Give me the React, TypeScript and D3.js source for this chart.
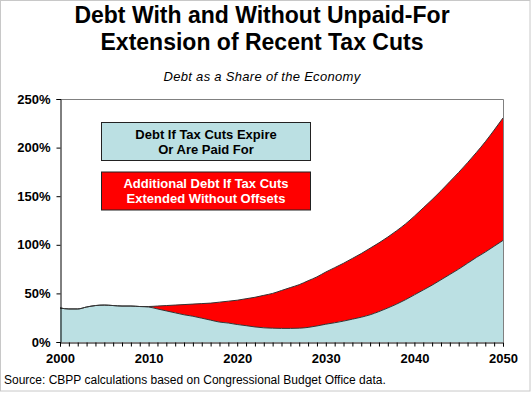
import React, { useEffect, useRef } from 'react';
import * as d3 from 'd3';

const years = d3.range(2000, 2051);

// debt if tax cuts expire (% of GDP)
const baseDebt = [
  35, 34, 34, 36, 37.5, 38, 37.5, 37, 37, 36.5,
  36, 34, 32, 30, 28, 26.5, 24.5, 22.5, 20.5, 19.5,
  18, 16.8, 15.5, 14.6, 14.2, 14, 14, 14.2, 15, 16.5,
  18.3, 19.8, 21.5, 23.5, 25.5, 28, 31.3, 35, 39, 43.5,
  48.5, 53.5, 58.5, 64, 69.5, 75, 81, 87, 92.5, 98.5,
  104.5,
];

// total debt if tax cuts extended without offsets
const totalDebt = [
  35, 34, 34, 36, 37.5, 38, 37.5, 37, 37, 36.5,
  36.5, 37, 37.5, 38, 38.5, 39, 39.5, 40, 41, 42,
  43, 44.5, 46, 48, 50, 53, 56, 59, 63, 67,
  72, 76.5, 81, 86, 91, 96.5, 102, 108, 114.5, 121.5,
  129.5, 138, 146.5, 155.5, 165, 174.5, 184.5, 195, 206, 218,
  230.5,
];

const yTicks = [0, 50, 100, 150, 200, 250];
const xLabels = [2000, 2010, 2020, 2030, 2040, 2050];

const titleLines = ['Debt With and Without Unpaid-For', 'Extension of Recent Tax Cuts'];
const subtitle = 'Debt as a Share of the Economy';
const legendBlue = ['Debt If Tax Cuts Expire', 'Or Are Paid For'];
const legendRed = ['Additional Debt If Tax Cuts', 'Extended Without Offsets'];
const source = 'Source: CBPP calculations based on Congressional Budget Office data.';

const W = 531, H = 398;
const font = 'Arial, "Liberation Sans", Helvetica, sans-serif';

const App = () => {
  const ref = useRef<SVGSVGElement | null>(null);

  useEffect(() => {
    if (!ref.current) return;
    const svg = d3.select(ref.current);
    svg.selectAll('*').remove();

    const margin = { top: 99, right: 28, bottom: 56, left: 60 };
    const x = d3.scaleLinear().domain([2000, 2050]).range([margin.left, W - margin.right]);
    const y = d3.scaleLinear().domain([0, 250]).range([H - margin.bottom, margin.top]);

    const data = years.map((yr, i) => ({ yr, base: baseDebt[i], total: totalDebt[i] }));

    svg.append('rect').attr('width', W).attr('height', H).attr('fill', '#fff');
    // outer frame
    svg.append('rect')
      .attr('x', 0.5).attr('y', 0.5).attr('width', W - 1.5).attr('height', 390.5)
      .attr('fill', 'none').attr('stroke', '#c8c8c8');

    const g = svg.append('g');

    const blueArea = d3.area<any>()
      .x(d => x(d.yr)).y0(y(0)).y1(d => y(d.base))
      .curve(d3.curveMonotoneX);
    const redArea = d3.area<any>()
      .x(d => x(d.yr)).y0(d => y(d.base)).y1(d => y(d.total))
      .curve(d3.curveMonotoneX);

    g.append('path').datum(data).attr('d', redArea).attr('fill', '#ff0000');
    g.append('path').datum(data).attr('d', blueArea).attr('fill', '#bbe0e3');

    const baseLine = d3.line<any>().x(d => x(d.yr)).y(d => y(d.base)).curve(d3.curveMonotoneX);
    const totalLine = d3.line<any>().x(d => x(d.yr)).y(d => y(d.total)).curve(d3.curveMonotoneX);
    g.append('path').datum(data).attr('d', baseLine)
      .attr('fill', 'none').attr('stroke', '#333').attr('stroke-width', 1);
    g.append('path').datum(data).attr('d', totalLine)
      .attr('fill', 'none').attr('stroke', '#333').attr('stroke-width', 1);

    // plot frame: gray top/right, black left/bottom
    const x0 = x(2000), x1 = x(2050), yb = y(0), yt = y(250);
    g.append('path')
      .attr('d', `M${x0},${yt + 0.5}H${x1 + 0.5}V${yb}`)
      .attr('fill', 'none').attr('stroke', '#808080');

    const yAxis = g.append('g').attr('transform', `translate(${x0 + 0.5},0)`)
      .call(d3.axisLeft(y).tickValues(yTicks).tickSize(4).tickFormat(d => `${d}%`));
    yAxis.select('.domain').attr('stroke', '#000');
    yAxis.selectAll('text')
      .attr('font-family', font).attr('font-size', 13).attr('font-weight', 'bold')
      .attr('fill', '#000').attr('x', -10);

    const xAxis = g.append('g').attr('transform', `translate(0,${yb + 0.5})`)
      .call(d3.axisBottom(x).tickValues(years).tickSize(4)
        .tickFormat(d => (xLabels.includes(+d) ? String(d) : '')));
    xAxis.select('.domain').attr('stroke', '#000');
    xAxis.selectAll('text')
      .attr('font-family', font).attr('font-size', 13).attr('font-weight', 'bold')
      .attr('fill', '#000').attr('y', 11);

    // legend boxes
    const legends = [
      { lines: legendBlue, fill: '#bbe0e3', color: '#000', y: 122.5 },
      { lines: legendRed, fill: '#ff0000', color: '#fff', y: 172 },
    ];
    legends.forEach(l => {
      svg.append('rect')
        .attr('x', 101.5).attr('y', l.y).attr('width', 209).attr('height', 38)
        .attr('fill', l.fill).attr('stroke', '#222');
      l.lines.forEach((t, i) => {
        svg.append('text')
          .attr('x', 206).attr('y', l.y + 16 + i * 15)
          .attr('text-anchor', 'middle')
          .attr('font-family', font).attr('font-size', 13).attr('font-weight', 'bold')
          .attr('fill', l.color).text(t);
      });
    });

    titleLines.forEach((t, i) => {
      svg.append('text')
        .attr('x', 262).attr('y', 23 + i * 27)
        .attr('text-anchor', 'middle')
        .attr('font-family', font).attr('font-size', 23).attr('font-weight', 'bold')
        .attr('fill', '#000').text(t);
    });

    svg.append('text')
      .attr('x', 262).attr('y', 81)
      .attr('text-anchor', 'middle')
      .attr('font-family', font).attr('font-size', 13).attr('font-style', 'italic')
      .attr('letter-spacing', 0.3)
      .attr('fill', '#000').text(subtitle);

    svg.append('text')
      .attr('x', 4).attr('y', 384)
      .attr('font-family', font).attr('font-size', 12)
      .attr('fill', '#000').text(source);
  }, []);

  return (
    <svg
      ref={ref}
      width={W}
      height={H}
      style={{ position: 'absolute', left: 0, top: 0, display: 'block' }}
    />
  );
};

export default App;
